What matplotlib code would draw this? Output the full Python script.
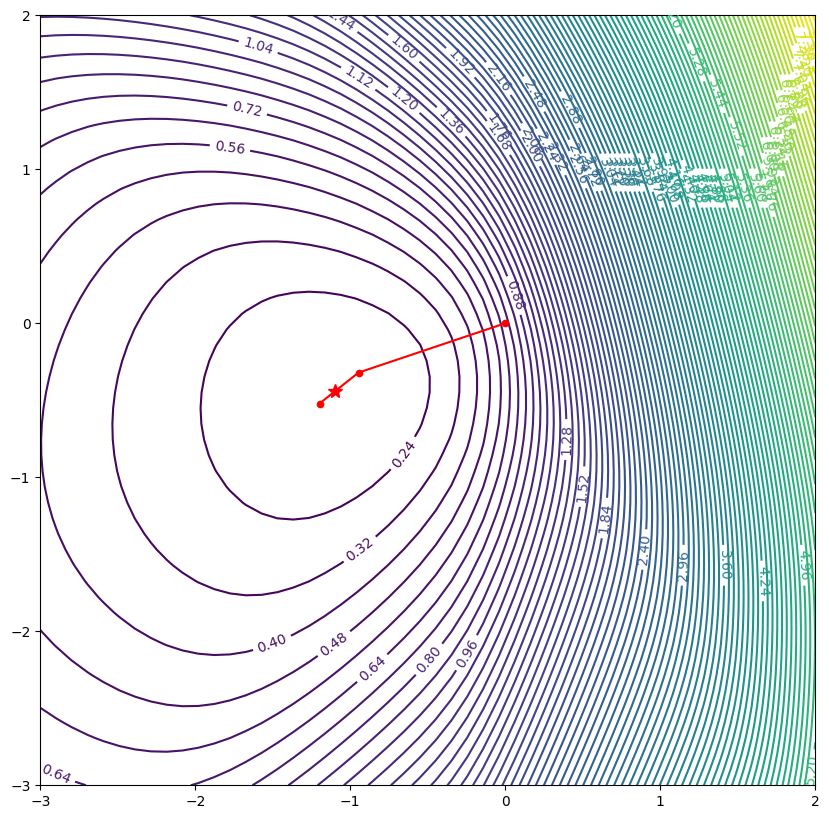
import numpy as np
import matplotlib
matplotlib.use('Agg')
import matplotlib.pyplot as plt

# Loss surface: weighted sum of softplus terms plus a quadratic penalty
term_weight = [0.2439, 0.1708, 0.1269, 0.2009]
term_dir_x = [1.6539, 3.1395, 7.5374, 4.7332]
term_dir_y = [2.5295, -1.8742, -0.3413, 2.7578]
term_offset = [0.3773, -0.0256, 0.7307, -0.2862]
quad_xx, quad_xy, quad_yy = 0.0653, -0.0292, 0.1070
lin_x, lin_y, const = -0.0162, -0.0043, 0.0906

# Optimisation path and optimum
path_x = [0.0, -0.946, -1.198]
path_y = [0.0, -0.320, -0.521]
opt_x, opt_y = -1.10, -0.44


def loss(X, Y):
    out = 0.5 * (quad_xx * X * X + 2 * quad_xy * X * Y + quad_yy * Y * Y) + lin_x * X + lin_y * Y + const
    for c, a1, a2, b in zip(term_weight, term_dir_x, term_dir_y, term_offset):
        out = out + c * np.logaddexp(0, a1 * X + a2 * Y + b)
    return out


gx = np.linspace(-3, 2, 50)
gy = np.linspace(-3, 2, 50)
X, Y = np.meshgrid(gx, gy)
Z = loss(X, Y)

fig, ax = plt.subplots(figsize=(10, 10))
cs = ax.contour(X, Y, Z, levels=100)
ax.clabel(cs, inline=True, fontsize=10)
ax.plot(path_x, path_y, 'ro-', markersize=4.5)
ax.plot(opt_x, opt_y, 'r*', markersize=10)
fig.savefig('out.png', bbox_inches='tight')
